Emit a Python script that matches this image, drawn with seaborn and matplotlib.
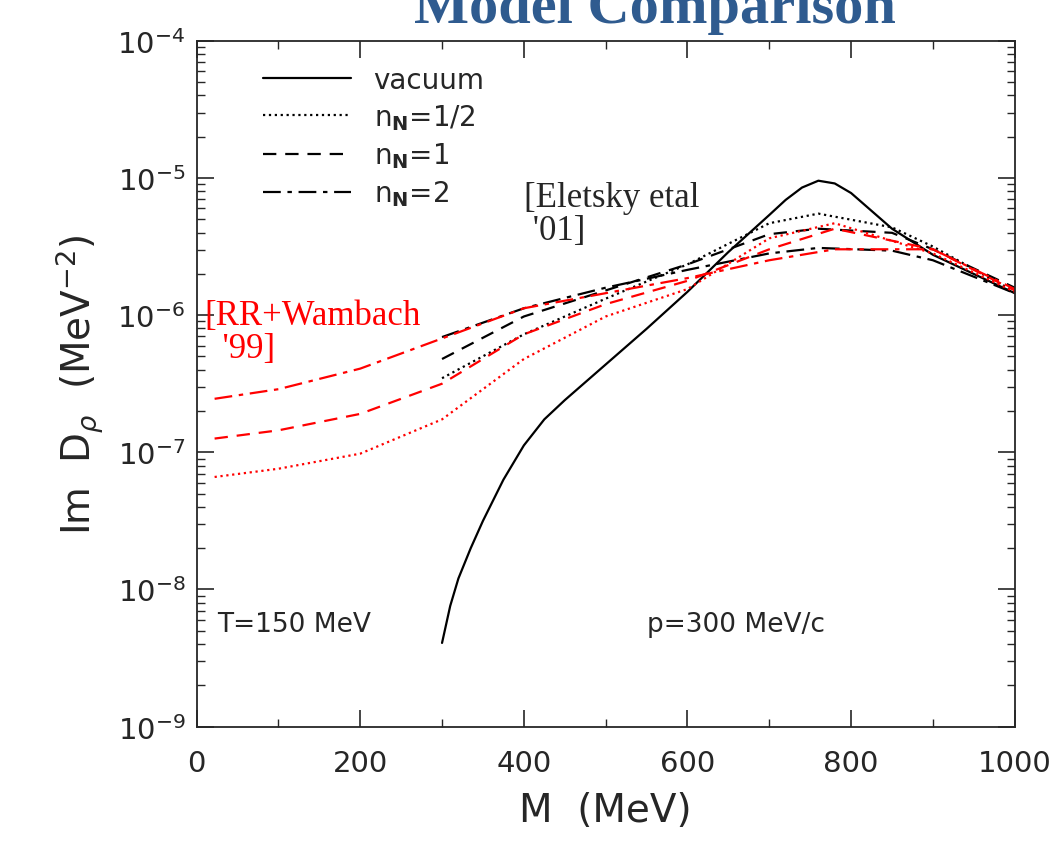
import numpy as np
import matplotlib
matplotlib.use("Agg")
import matplotlib.pyplot as plt
import seaborn as sns
import pandas as pd

sns.set_theme(style="ticks")
plt.rcParams['font.family'] = ['DejaVu Sans']

# data: log10 of Im D
vac_M = [300, 310, 320, 335, 350, 375, 400, 425, 450, 500, 550, 600, 650, 700, 720, 740, 760, 780, 800, 825, 850, 900, 950, 1000]
vac_L = [-8.39, -8.12, -7.92, -7.70, -7.50, -7.20, -6.95, -6.76, -6.62, -6.36, -6.10, -5.83, -5.54, -5.27, -5.16, -5.07, -5.02, -5.04, -5.11, -5.24, -5.37, -5.56, -5.70, -5.84]

red_M = [22, 100, 200, 300, 400, 500, 600, 700, 780, 900, 1000]
red_dot = [-7.18, -7.12, -7.01, -6.76, -6.32, -6.01, -5.81, -5.44, -5.33, -5.55, -5.83]
red_dash = [-6.90, -6.84, -6.72, -6.50, -6.14, -5.92, -5.75, -5.52, -5.37, -5.52, -5.82]
red_dd = [-6.61, -6.54, -6.39, -6.17, -5.95, -5.84, -5.73, -5.60, -5.52, -5.52, -5.81]

blk_M = [300, 400, 500, 600, 700, 760, 850, 900, 1000]
blk_dot = [-6.46, -6.14, -5.88, -5.63, -5.33, -5.26, -5.36, -5.50, -5.83]
blk_dash = [-6.32, -6.01, -5.82, -5.63, -5.41, -5.37, -5.40, -5.52, -5.80]
blk_dd = [-6.16, -5.95, -5.80, -5.67, -5.55, -5.51, -5.53, -5.60, -5.84]

fig = plt.figure(figsize=(10.57, 8.53), dpi=100)
ax = fig.add_axes([0.186, 0.147, 0.774, 0.804])

def draw(M, L, color, ls, label=None):
    df = pd.DataFrame({"M": M, "v": 10 ** np.array(L)})
    sns.lineplot(data=df, x="M", y="v", ax=ax, color=color, linestyle=ls, lw=1.6, label=label, legend=False)

draw(vac_M, vac_L, "black", "-", "vacuum")
draw(blk_M, blk_dot, "black", ":", r"n$_\mathbf{N}$=1/2")
draw(blk_M, blk_dash, "black", (0, (6, 4)), r"n$_\mathbf{N}$=1")
draw(blk_M, blk_dd, "black", (0, (8, 3, 2, 3)), r"n$_\mathbf{N}$=2")
draw(red_M, red_dot, "red", ":")
draw(red_M, red_dash, "red", (0, (6, 4)))
draw(red_M, red_dd, "red", (0, (8, 3, 2, 3)))

ax.set_yscale("log")
ax.set_xlim(0, 1000)
ax.set_ylim(1e-9, 1e-4)
ax.set_xticks([0, 200, 400, 600, 800, 1000])
ax.set_xticks(np.arange(0, 1001, 100), minor=True)
ax.tick_params(which="both", direction="in", top=True, right=True, labelsize=21)
ax.tick_params(axis="x", pad=16)
ax.tick_params(axis="y", pad=8)
ax.tick_params(which="major", length=12, width=1.2)
ax.tick_params(which="minor", length=6)
for s in ax.spines.values():
    s.set_linewidth(1.3)
ax.set_xlabel("M  (MeV)", fontsize=28, labelpad=10)
ax.set_ylabel(r"Im  D$_\rho$  (MeV$^{-2}$)", fontsize=28, labelpad=8)

ax.legend(loc="upper left", bbox_to_anchor=(0.05, 1.0), frameon=False, fontsize=20,
          handlelength=3.2, labelspacing=0.3)

ax.text(25, 5e-9, "T=150 MeV", fontsize=19)
ax.text(550, 5e-9, "p=300 MeV/c", fontsize=19)
ax.text(400, 5.5e-6, "[Eletsky etal\n '01]", fontsize=25, family="Liberation Serif", va="center", linespacing=1.0)
ax.text(10, 7.5e-7, "[RR+Wambach\n  '99]", fontsize=25, family="Liberation Serif", color="red", va="center", linespacing=1.0)

fig.text(0.62, 0.99, "Model Comparison", fontsize=42, color="#2f5b8f", fontweight="bold",
         family="Liberation Serif", ha="center", va="center")

fig.savefig("out.png", dpi=100)
